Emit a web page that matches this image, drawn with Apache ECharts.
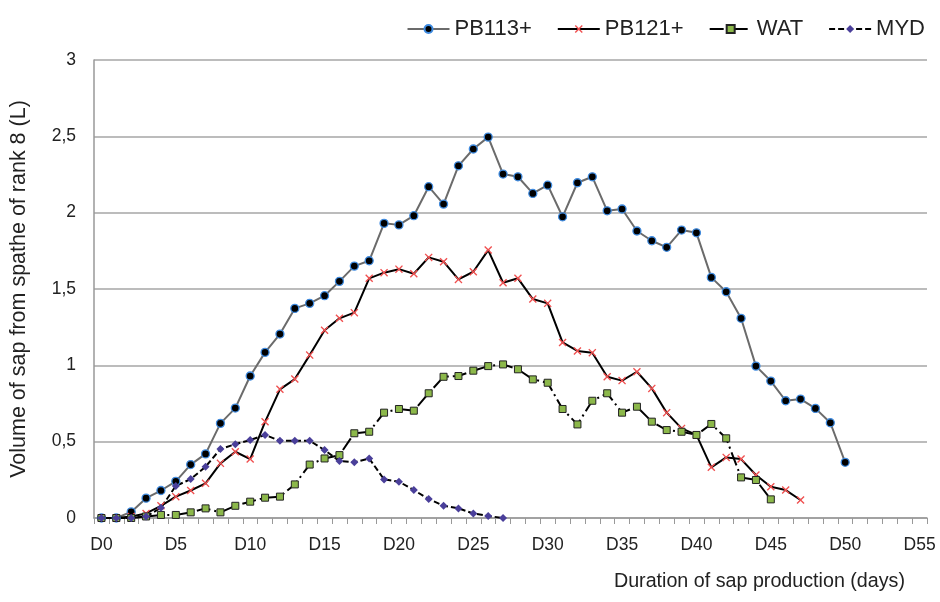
<!DOCTYPE html>
<html>
<head>
<meta charset="utf-8">
<script src="https://cdn.jsdelivr.net/npm/echarts@6/dist/echarts.min.js"></script>
<style>
html,body{margin:0;padding:0;background:#fff;}
#chart{width:940px;height:602px;}
</style>
</head>
<body>
<div id="chart"></div>
<script>
// Categories D0..D55
const days = [];
for (let i = 0; i <= 55; i++) days.push('D' + i);

const yTicks = [0, 0.5, 1, 1.5, 2, 2.5, 3];

const pb113 = [0, 0, 0.04, 0.13, 0.18, 0.24, 0.35, 0.42, 0.62, 0.72,
  0.93, 1.085, 1.205, 1.373, 1.406, 1.456, 1.55, 1.65, 1.685, 1.93,
  1.92, 1.98, 2.17, 2.056, 2.307, 2.417, 2.495, 2.253, 2.235, 2.126,
  2.18, 1.973, 2.196, 2.235, 2.012, 2.024, 1.88, 1.816, 1.773, 1.886,
  1.868, 1.576, 1.482, 1.308, 0.995, 0.897, 0.768, 0.779, 0.718, 0.624,
  0.365];

const pb121 = [0, 0, 0.01, 0.03, 0.08, 0.14, 0.18, 0.227, 0.358, 0.434,
  0.386, 0.63, 0.843, 0.91, 1.067, 1.23, 1.308, 1.345, 1.57, 1.607,
  1.63, 1.60, 1.707, 1.679, 1.563, 1.613, 1.755, 1.541, 1.57, 1.434,
  1.406, 1.15, 1.094, 1.083, 0.925, 0.9, 0.958, 0.849, 0.69, 0.587,
  0.544, 0.332, 0.397, 0.386, 0.282, 0.205, 0.183, 0.118];

const wat = [0, 0, 0, 0.01, 0.02, 0.02, 0.037, 0.063, 0.037, 0.08,
  0.107, 0.133, 0.14, 0.22, 0.35, 0.39, 0.412, 0.555, 0.565, 0.69,
  0.714, 0.703, 0.817, 0.925, 0.93, 0.965, 0.995, 1.006, 0.974, 0.908,
  0.886, 0.714, 0.613, 0.768, 0.817, 0.69, 0.729, 0.631, 0.576, 0.565,
  0.544, 0.616, 0.522, 0.266, 0.249, 0.122];

const myd = [0, 0, 0, 0.01, 0.067, 0.21, 0.255, 0.336, 0.452, 0.483,
  0.511, 0.544, 0.506, 0.506, 0.506, 0.445, 0.373, 0.365, 0.39, 0.253,
  0.238, 0.183, 0.124, 0.08, 0.063, 0.03, 0.013, 0];

const xSym = 'path://M0,1.2L1.2,0L5,3.8L8.8,0L10,1.2L6.2,5L10,8.8L8.8,10L5,6.2L1.2,10L0,8.8L3.8,5Z';

const chart = echarts.init(document.getElementById('chart'));
const font = 'Liberation Sans, Arial, sans-serif';
chart.setOption({
  animation: false,
  backgroundColor: '#fff',
  textStyle: { fontFamily: font },
  legend: {
    top: 13,
    right: 10,
    itemWidth: 42,
    itemHeight: 10,
    itemGap: 25,
    textStyle: { fontSize: 22, color: '#222', fontFamily: font },
    data: ['PB113+', 'PB121+', 'WAT', 'MYD']
  },
  grid: { left: 93, right: 13, top: 60, bottom: 84 },
  xAxis: {
    type: 'category',
    data: days,
    boundaryGap: true,
    name: 'Duration of sap production (days)',
    nameLocation: 'end',
    nameGap: 0,
    nameTextStyle: { fontSize: 19.7, color: '#222', align: 'right', verticalAlign: 'top', padding: [54, 22, 0, 0] },
    axisLine: { lineStyle: { color: '#999', width: 1.5 } },
    axisTick: { show: true, interval: 0, length: 6, lineStyle: { color: '#999' } },
    axisLabel: { interval: 4, fontSize: 17.5, color: '#222', margin: 18 },
    splitLine: { show: false }
  },
  yAxis: {
    type: 'value',
    min: yTicks[0],
    max: yTicks[yTicks.length - 1],
    interval: 0.5,
    name: 'Volume of sap from spathe of rank 8 (L)',
    nameLocation: 'middle',
    nameGap: 64,
    nameTextStyle: { fontSize: 21.5, color: '#222' },
    axisLine: { show: true, lineStyle: { color: '#999', width: 1.5 } },
    axisTick: { show: false },
    axisLabel: { fontSize: 17.5, color: '#222', margin: 18, formatter: v => String(v).replace('.', ',') },
    splitLine: { lineStyle: { color: '#a6a6a6', width: 1.5 } }
  },
  series: [
    {
      name: 'PB113+', type: 'line', data: pb113,
      symbol: 'circle', symbolSize: 8,
      lineStyle: { color: '#6b6b6b', width: 2 },
      itemStyle: { color: '#000', borderColor: '#3f8be0', borderWidth: 1.3 }
    },
    {
      name: 'PB121+', type: 'line', data: pb121,
      symbol: xSym, symbolSize: 8,
      lineStyle: { color: '#000', width: 2 },
      itemStyle: { color: '#f05050' }
    },
    {
      name: 'WAT', type: 'line', data: wat,
      symbol: 'rect', symbolSize: 7,
      lineStyle: { color: '#000', width: 2, type: [14, 4, 2, 4] },
      itemStyle: { color: '#8cb84a', borderColor: '#222', borderWidth: 1 }
    },
    {
      name: 'MYD', type: 'line', data: myd,
      symbol: 'diamond', symbolSize: 8,
      lineStyle: { color: '#000', width: 2, type: [6, 3] },
      itemStyle: { color: '#4a3f9a' }
    }
  ]
});
</script>
</body>
</html>
